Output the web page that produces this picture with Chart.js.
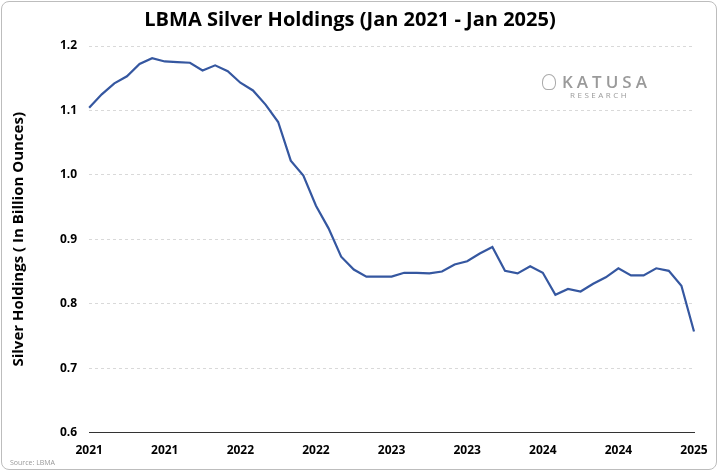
<!DOCTYPE html>
<html>
<head>
<meta charset="utf-8">
<script src="https://cdn.jsdelivr.net/npm/chart.js@4"></script>
<style>
  html, body { margin: 0; padding: 0; background: #fff; }
  #wrap { position: relative; width: 716px; height: 469px; margin: 1px; border: 1px solid #bdbdbd; border-radius: 8px; box-sizing: border-box; font-family: "Open Sans", sans-serif; }
  #logo { position: absolute; left: 540px; top: 68px; color: #9a9a9a; }
  #logo .k { font-size: 17px; letter-spacing: 4px; font-weight: 600; }
  #logo .b { display: inline-block; width: 14px; height: 16px; border: 1.5px solid #aaa; border-radius: 50% 50% 40% 40%; margin-right: 6px; vertical-align: -2px; box-sizing: border-box; }
  #logo .r { font-size: 8px; letter-spacing: 2.5px; margin-left: 28px; margin-top: -4px; }
  #src { position: absolute; left: 8px; bottom: 2px; font-size: 7px; color: #999; }
</style>
</head>
<body>
<div id="wrap">
  <canvas id="c" width="714" height="467"></canvas>
  <div id="logo"><div class="k"><span class="b"></span>KATUSA</div><div class="r">RESEARCH</div></div>
  <div id="src">Source: LBMA</div>
</div>
<script>
// monthly, Jan 2021 - Jan 2025
const months = [];
for (let y = 2021; y <= 2025; y++) for (let m = 0; m < 12; m++) if (months.length < 49) months.push(String(y));
const holdings = [1.104, 1.125, 1.142, 1.153, 1.172, 1.181, 1.176, 1.175, 1.174, 1.162, 1.170, 1.161,
  1.143, 1.131, 1.109, 1.082, 1.022, 0.999, 0.952, 0.917, 0.873, 0.853, 0.842, 0.842,
  0.842, 0.848, 0.848, 0.847, 0.850, 0.861, 0.866, 0.878, 0.888, 0.851, 0.847, 0.858,
  0.848, 0.814, 0.823, 0.819, 0.831, 0.841, 0.855, 0.844, 0.844, 0.855, 0.851, 0.828, 0.757];
const yTicks = [0.6, 0.7, 0.8, 0.9, 1.0, 1.1, 1.2];

new Chart(document.getElementById('c'), {
  type: 'line',
  data: {
    labels: months,
    datasets: [{ data: holdings, borderColor: '#3557a0', borderWidth: 2.2, pointRadius: 0, tension: 0 }]
  },
  options: {
    responsive: false,
    animation: false,
    layout: { padding: { left: 4, right: 22, top: 0, bottom: 8 } },
    plugins: {
      legend: { display: false },
      tooltip: { enabled: false },
      title: { display: true, text: 'LBMA Silver Holdings (Jan 2021 - Jan 2025)', color: '#000',
        font: { family: 'Open Sans', size: 20, weight: 'bold' }, padding: { top: 6, bottom: 14 } }
    },
    scales: {
      x: {
        offset: false,
        grid: { display: false },
        border: { color: '#333', width: 1 },
        ticks: { autoSkip: false, maxRotation: 0, color: '#000', font: { family: 'Open Sans', size: 12, weight: 'bold' },
          callback: (v, i) => i % 6 === 0 ? months[i] : '' }
      },
      y: {
        min: 0.6, max: 1.2,
        afterBuildTicks: s => { s.ticks = yTicks.map(v => ({ value: v })); },
        afterFit: s => { s.width += 16; },
        grid: { color: '#d9d9d9', tickLength: 0 },
        border: { display: false, dash: [3, 3] },
        ticks: { color: '#000', padding: 12, font: { family: 'Open Sans', size: 12, weight: 'bold' }, callback: v => v.toFixed(1) },
        title: { display: true, text: 'Silver Holdings ( In Billion Ounces)', color: '#000', font: { family: 'Open Sans', size: 15, weight: 'bold' } }
      }
    }
  }
});
</script>
</body>
</html>
